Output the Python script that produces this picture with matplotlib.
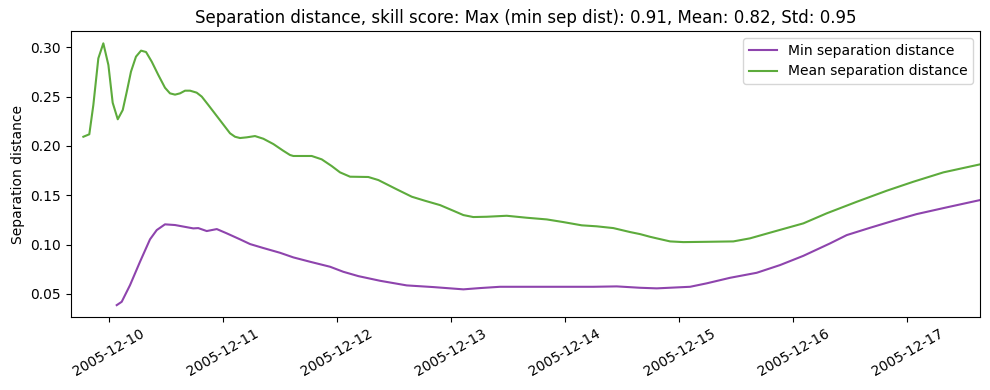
import matplotlib.pyplot as plt
import matplotlib.dates as mdates
import pandas as pd

# Min separation distance
min_times = ['2005-12-10 01:41', '2005-12-10 02:44', '2005-12-10 04:29', '2005-12-10 06:35',
             '2005-12-10 08:41', '2005-12-10 10:06', '2005-12-10 11:50', '2005-12-10 13:57',
             '2005-12-10 17:47', '2005-12-10 18:50', '2005-12-10 20:37', '2005-12-10 22:44',
             '2005-12-11 00:49', '2005-12-11 03:37', '2005-12-11 05:44', '2005-12-11 08:31',
             '2005-12-11 12:01', '2005-12-11 14:50', '2005-12-11 18:20', '2005-12-11 22:34',
             '2005-12-12 01:21', '2005-12-12 04:31', '2005-12-12 09:04', '2005-12-12 14:41',
             '2005-12-12 20:17', '2005-12-13 02:36', '2005-12-13 06:06', '2005-12-13 10:18',
             '2005-12-13 17:18', '2005-12-14 00:20', '2005-12-14 05:56', '2005-12-14 10:51',
             '2005-12-14 15:46', '2005-12-14 19:16', '2005-12-15 02:17', '2005-12-15 05:47',
             '2005-12-15 10:41', '2005-12-15 16:18', '2005-12-15 21:12', '2005-12-16 02:07',
             '2005-12-16 07:44', '2005-12-16 11:14', '2005-12-16 16:08', '2005-12-16 21:01',
             '2005-12-17 01:57', '2005-12-17 08:15', '2005-12-17 15:16']
min_sep = [0.0386, 0.0420, 0.0589, 0.0826, 0.1053, 0.1147, 0.1205, 0.1198,
           0.1164, 0.1167, 0.1137, 0.1157, 0.1114, 0.1053, 0.1005, 0.0965,
           0.0917, 0.0870, 0.0826, 0.0775, 0.0724, 0.0680, 0.0633, 0.0586,
           0.0569, 0.0546, 0.0559, 0.0572, 0.0572, 0.0572, 0.0572, 0.0576,
           0.0562, 0.0556, 0.0572, 0.0607, 0.0663, 0.0714, 0.0792, 0.0886,
           0.1012, 0.1096, 0.1170, 0.1241, 0.1309, 0.1377, 0.1451]

# Mean separation distance
mean_times = ['2005-12-09 18:40', '2005-12-09 19:55', '2005-12-09 20:46', '2005-12-09 21:49',
              '2005-12-09 22:52', '2005-12-09 23:56', '2005-12-10 00:50', '2005-12-10 01:54',
              '2005-12-10 02:57', '2005-12-10 03:48', '2005-12-10 04:41', '2005-12-10 05:44',
              '2005-12-10 06:48', '2005-12-10 07:51', '2005-12-10 09:03', '2005-12-10 10:26',
              '2005-12-10 11:50', '2005-12-10 12:53', '2005-12-10 13:57', '2005-12-10 15:00',
              '2005-12-10 16:03', '2005-12-10 17:07', '2005-12-10 18:30', '2005-12-10 19:34',
              '2005-12-10 20:57', '2005-12-10 22:44', '2005-12-11 00:27', '2005-12-11 01:31',
              '2005-12-11 02:34', '2005-12-11 03:37', '2005-12-11 05:01', '2005-12-11 06:46',
              '2005-12-11 08:31', '2005-12-11 10:38', '2005-12-11 12:43', '2005-12-11 14:08',
              '2005-12-11 14:50', '2005-12-11 16:13', '2005-12-11 18:42', '2005-12-11 20:48',
              '2005-12-11 22:54', '2005-12-12 00:39', '2005-12-12 02:46', '2005-12-12 06:36',
              '2005-12-12 08:43', '2005-12-12 12:35', '2005-12-12 15:45', '2005-12-12 18:32',
              '2005-12-12 21:42', '2005-12-13 00:29', '2005-12-13 02:36', '2005-12-13 04:41',
              '2005-12-13 07:31', '2005-12-13 11:43', '2005-12-13 15:55', '2005-12-13 20:08',
              '2005-12-13 23:37', '2005-12-14 03:30', '2005-12-14 06:39', '2005-12-14 10:09',
              '2005-12-14 13:39', '2005-12-14 15:46', '2005-12-14 17:51', '2005-12-14 19:16',
              '2005-12-14 22:05', '2005-12-15 00:52', '2005-12-15 05:47', '2005-12-15 11:23',
              '2005-12-15 14:53', '2005-12-15 19:48', '2005-12-16 02:07', '2005-12-16 07:02',
              '2005-12-16 13:21', '2005-12-16 19:39', '2005-12-17 01:15', '2005-12-17 07:34',
              '2005-12-17 15:16']
mean_sep = [0.2093, 0.2118, 0.2415, 0.2888, 0.3040, 0.2820, 0.2438, 0.2270,
            0.2364, 0.2550, 0.2753, 0.2905, 0.2966, 0.2952, 0.2854, 0.2719,
            0.2590, 0.2533, 0.2520, 0.2533, 0.2560, 0.2560, 0.2540, 0.2500,
            0.2415, 0.2303, 0.2195, 0.2128, 0.2093, 0.2080, 0.2087, 0.2100,
            0.2073, 0.2019, 0.1951, 0.1908, 0.1898, 0.1898, 0.1898, 0.1864,
            0.1796, 0.1732, 0.1688, 0.1685, 0.1654, 0.1560, 0.1485, 0.1444,
            0.1400, 0.1343, 0.1299, 0.1279, 0.1282, 0.1292, 0.1272, 0.1255,
            0.1228, 0.1195, 0.1185, 0.1167, 0.1127, 0.1106, 0.1079, 0.1063,
            0.1032, 0.1025, 0.1028, 0.1032, 0.1063, 0.1130, 0.1215, 0.1317,
            0.1434, 0.1546, 0.1637, 0.1732, 0.1813]

fig, ax = plt.subplots(figsize=(9.9, 3.9), dpi=100)
ax.plot(pd.to_datetime(min_times), min_sep, color='#8e44ad', label='Min separation distance')
ax.plot(pd.to_datetime(mean_times), mean_sep, color='#5dab3c', label='Mean separation distance')

ax.set_xlim(pd.Timestamp('2005-12-09 16:00'), pd.Timestamp('2005-12-17 15:16'))
ax.set_ylim(0.0265, 0.3165)
ax.xaxis.set_major_locator(mdates.DayLocator())
ax.xaxis.set_major_formatter(mdates.DateFormatter('%Y-%m-%d'))
plt.setp(ax.get_xticklabels(), rotation=30)
ax.set_ylabel('Separation distance')
ax.set_title('Separation distance, skill score: Max (min sep dist): 0.91, Mean: 0.82, Std: 0.95')
ax.legend(loc='upper right')
fig.subplots_adjust(left=0.0714, right=0.9899, top=0.9205, bottom=0.187)
fig.savefig('out.png')
